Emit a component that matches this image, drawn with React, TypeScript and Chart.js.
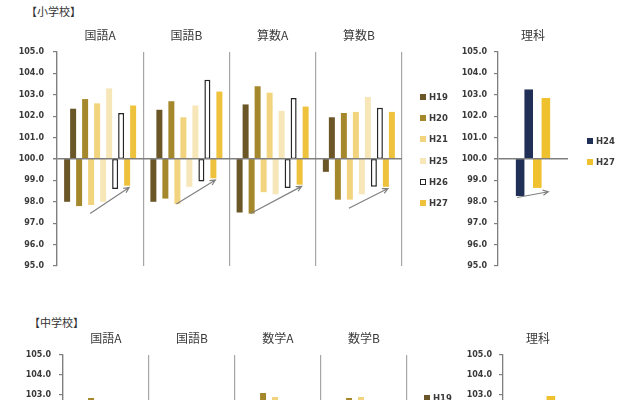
import React, { useEffect, useRef } from 'react';
import { Chart, registerables } from 'chart.js';

Chart.register(...registerables);

const YEARS = ['H19', 'H20', 'H21', 'H25', 'H26', 'H27'];
const YEAR_COLORS = ['#6b5628', '#a6882c', '#f2d47e', '#f6e6b8', '#ffffff', '#eec23c'];
const HOLLOW_YEAR = 'H26';
const RIKA_YEARS = ['H24', 'H27'];
const RIKA_COLORS = ['#1f2f55', '#efc12e'];
const Y_TICKS = [95, 96, 97, 98, 99, 100, 101, 102, 103, 104, 105];

// 小学校
const ELEM_SUBJECTS = ['国語A', '国語B', '算数A', '算数B'];
const ELEM_H19_HIGH = [102.35, 102.3, 102.55, 101.95];
const ELEM_H20_HIGH = [102.8, 102.7, 103.4, 102.15];
const ELEM_H21_HIGH = [102.6, 101.95, 103.1, 102.2];
const ELEM_H25_HIGH = [103.3, 102.5, 102.25, 102.9];
const ELEM_H26_HIGH = [102.15, 103.7, 102.85, 102.4];
const ELEM_H27_HIGH = [102.5, 103.15, 102.45, 102.2];
const ELEM_H19_LOW = [98.0, 98.0, 97.5, 99.4];
const ELEM_H20_LOW = [97.8, 98.15, 97.45, 98.1];
const ELEM_H21_LOW = [97.85, 97.9, 98.45, 98.1];
const ELEM_H25_LOW = [98.0, 98.7, 98.35, 98.35];
const ELEM_H26_LOW = [98.6, 98.95, 98.65, 98.7];
const ELEM_H27_LOW = [98.75, 99.1, 98.8, 98.7];
const ELEM_ARROW_FROM_YEAR = ['H21', 'H21', 'H20', 'H21'];
const ELEM_ARROW_FROM_VALUE = [97.45, 97.9, 97.45, 97.7];
const ELEM_RIKA = ['理科'];
const ELEM_RIKA_H24_HIGH = [103.25];
const ELEM_RIKA_H27_HIGH = [102.85];
const ELEM_RIKA_H24_LOW = [98.27];
const ELEM_RIKA_H27_LOW = [98.65];

// 中学校
const JHS_SUBJECTS = ['国語A', '国語B', '数学A', '数学B'];
const JHS_H19_HIGH = [102.4, 102.2, 102.6, 102.3];
const JHS_H20_HIGH = [102.85, 102.5, 103.1, 102.85];
const JHS_H21_HIGH = [102.6, 102.4, 102.9, 102.9];
const JHS_H25_HIGH = [102.5, 102.6, 102.4, 102.6];
const JHS_H26_HIGH = [102.3, 102.5, 102.5, 102.4];
const JHS_H27_HIGH = [102.4, 102.3, 102.6, 102.5];
const JHS_H19_LOW = [98.2, 98.0, 97.8, 98.1];
const JHS_H20_LOW = [98.1, 98.2, 97.9, 98.0];
const JHS_H21_LOW = [98.3, 98.1, 98.2, 98.3];
const JHS_H25_LOW = [98.4, 98.5, 98.3, 98.4];
const JHS_H26_LOW = [98.6, 98.7, 98.5, 98.6];
const JHS_H27_LOW = [98.8, 98.9, 98.7, 98.8];
const JHS_ARROW_FROM_YEAR = ['H20', 'H21', 'H20', 'H20'];
const JHS_ARROW_FROM_VALUE = [97.8, 97.8, 97.6, 97.7];
const JHS_RIKA = ['理科'];
const JHS_RIKA_H24_HIGH = [102.6];
const JHS_RIKA_H27_HIGH = [102.95];
const JHS_RIKA_H24_LOW = [98.3];
const JHS_RIKA_H27_LOW = [98.7];

const TEXT = '#3a3a3a';
const AXIS = '#7f7f7f';
const NUM_FONT = 'DejaVu Sans';
const JP_FONT = '"Noto Sans CJK JP", sans-serif';

type Arrow = { fromDs: number; toDs: number; index: number; fromValue: number; toValue: number; fromDx: number; toDx: number };

// gray trend arrows under the bars
const arrowPlugin = {
  id: 'trendArrows',
  afterDatasetsDraw(chart: any, _args: any, opts: any) {
    const items: Arrow[] = opts.items || [];
    const y = chart.scales.y;
    const ctx = chart.ctx;
    ctx.save();
    ctx.strokeStyle = '#808080';
    ctx.lineWidth = 1.2;
    items.forEach((a) => {
      const b1 = chart.getDatasetMeta(a.fromDs).data[a.index];
      const b2 = chart.getDatasetMeta(a.toDs).data[a.index];
      if (!b1 || !b2) return;
      const x1 = b1.x + a.fromDx;
      const y1 = y.getPixelForValue(a.fromValue);
      const x2 = b2.x + a.toDx;
      const y2 = y.getPixelForValue(a.toValue);
      const ang = Math.atan2(y2 - y1, x2 - x1);
      const head = 6;
      ctx.beginPath();
      ctx.moveTo(x1, y1);
      ctx.lineTo(x2, y2);
      ctx.moveTo(x2 - head * Math.cos(ang - 0.45), y2 - head * Math.sin(ang - 0.45));
      ctx.lineTo(x2, y2);
      ctx.lineTo(x2 - head * Math.cos(ang + 0.45), y2 - head * Math.sin(ang + 0.45));
      ctx.stroke();
    });
    ctx.restore();
  },
};

type PanelProps = {
  labels: string[];
  years: string[];
  colors: string[];
  highs: number[][];
  lows: number[][];
  arrows: Arrow[];
  left: number;
  top: number;
  width: number;
  height: number;
  yWidth: number;
  xHeight: number;
  padRight: number;
  padBottom: number;
  catPct: number;
  dividers: boolean;
  tickPad: number;
};

function Panel(p: PanelProps) {
  const canvasRef = useRef<HTMLCanvasElement | null>(null);

  useEffect(() => {
    if (!canvasRef.current) return;
    const datasets = p.years.flatMap((yr, i) => {
      const hollow = yr === HOLLOW_YEAR;
      const style = {
        label: yr,
        backgroundColor: p.colors[i],
        borderColor: hollow ? '#262626' : p.colors[i],
        borderWidth: hollow ? 1.5 : 0,
        borderSkipped: false,
        barPercentage: 1,
        categoryPercentage: p.catPct,
      };
      return [
        { ...style, data: p.lows[i].map((v) => [100, v]) },
        { ...style, data: p.highs[i].map((v) => [100, v]) },
      ];
    });

    const chart = new Chart(canvasRef.current, {
      type: 'bar',
      data: { labels: p.labels, datasets: datasets as any },
      plugins: [arrowPlugin],
      options: {
        animation: false,
        responsive: false,
        events: [],
        layout: { padding: { left: 0, top: 0, right: p.padRight, bottom: p.padBottom } },
        plugins: {
          legend: { display: false },
          tooltip: { enabled: false },
          trendArrows: { items: p.arrows },
        } as any,
        scales: {
          x: {
            position: 'top',
            grid: { display: p.dividers, color: '#a6a6a6', lineWidth: 1.2, drawTicks: false, offset: true },
            border: { display: false },
            ticks: { color: TEXT, font: { family: JP_FONT, size: 12 }, padding: 9 },
            afterFit: (s: any) => {
              s.height = p.xHeight;
            },
          },
          y: {
            min: 95,
            max: 105,
            afterBuildTicks: (s: any) => {
              s.ticks = Y_TICKS.map((v) => ({ value: v }));
            },
            ticks: {
              callback: (v: any) => Number(v).toFixed(1),
              color: TEXT,
              font: { family: NUM_FONT, size: 8, weight: 'bold' },
              padding: p.tickPad,
            },
            grid: {
              color: (c: any) => (c.tick && c.tick.value === 100 ? AXIS : 'rgba(0,0,0,0)'),
              lineWidth: (c: any) => (c.tick && c.tick.value === 100 ? 1.5 : 1.2),
              tickColor: AXIS,
              tickLength: 4,
              z: 1,
            },
            border: { display: true, color: AXIS, width: 1.3, z: 2 },
            afterFit: (s: any) => {
              s.width = p.yWidth;
            },
          },
        },
      } as any,
    });
    return () => chart.destroy();
  }, []);

  return (
    <canvas
      ref={canvasRef}
      width={p.width}
      height={p.height}
      style={{ position: 'absolute', left: p.left, top: p.top, width: p.width, height: p.height }}
    />
  );
}

function Legend({ items, colors, left, top }: { items: string[]; colors: string[]; left: number; top: number }) {
  return (
    <div style={{ position: 'absolute', left, top }}>
      {items.map((t, i) => (
        <div key={t} style={{ height: 21.3, display: 'flex', alignItems: 'center' }}>
          <span
            style={{
              display: 'inline-block',
              width: 6,
              height: 6,
              boxSizing: 'border-box',
              background: colors[i],
              border: t === HOLLOW_YEAR ? '1.5px solid #262626' : 'none',
              marginRight: 3,
            }}
          />
          <span style={{ font: `bold 8.5px ${NUM_FONT}`, color: TEXT }}>{t}</span>
        </div>
      ))}
    </div>
  );
}

function makeArrows(fromYears: string[], fromValues: number[], endLows: number[]): Arrow[] {
  const toDs = YEARS.indexOf('H27') * 2;
  return fromYears.map((yr, i) => ({
    fromDs: YEARS.indexOf(yr) * 2,
    toDs,
    index: i,
    fromValue: fromValues[i],
    toValue: endLows[i] - 0.08,
    fromDx: -1,
    toDx: 2,
  }));
}

export default function App() {
  const elemHighs = [ELEM_H19_HIGH, ELEM_H20_HIGH, ELEM_H21_HIGH, ELEM_H25_HIGH, ELEM_H26_HIGH, ELEM_H27_HIGH];
  const elemLows = [ELEM_H19_LOW, ELEM_H20_LOW, ELEM_H21_LOW, ELEM_H25_LOW, ELEM_H26_LOW, ELEM_H27_LOW];
  const jhsHighs = [JHS_H19_HIGH, JHS_H20_HIGH, JHS_H21_HIGH, JHS_H25_HIGH, JHS_H26_HIGH, JHS_H27_HIGH];
  const jhsLows = [JHS_H19_LOW, JHS_H20_LOW, JHS_H21_LOW, JHS_H25_LOW, JHS_H26_LOW, JHS_H27_LOW];

  const elemArrows = makeArrows(ELEM_ARROW_FROM_YEAR, ELEM_ARROW_FROM_VALUE, ELEM_H27_LOW);
  const jhsArrows = makeArrows(JHS_ARROW_FROM_YEAR, JHS_ARROW_FROM_VALUE, JHS_H27_LOW);
  const elemRikaArrow: Arrow[] = [
    { fromDs: 0, toDs: 2, index: 0, fromValue: ELEM_RIKA_H24_LOW[0] - 0.07, toValue: 98.47, fromDx: -3, toDx: 11 },
  ];
  const jhsRikaArrow: Arrow[] = [
    { fromDs: 0, toDs: 2, index: 0, fromValue: JHS_RIKA_H24_LOW[0] - 0.07, toValue: 98.5, fromDx: -3, toDx: 11 },
  ];

  const sectionLabel = { position: 'absolute' as const, font: `11px ${JP_FONT}`, color: '#333', lineHeight: '12px' };

  return (
    <div style={{ position: 'fixed', left: 0, top: 0, width: 640, height: 400, overflow: 'hidden', background: '#fff' }}>
      <div style={{ ...sectionLabel, left: 26, top: 5 }}>【小学校】</div>
      <Panel
        labels={ELEM_SUBJECTS}
        years={YEARS}
        colors={YEAR_COLORS}
        highs={elemHighs}
        lows={elemLows}
        arrows={elemArrows}
        left={0}
        top={14}
        width={460}
        height={272}
        yWidth={57}
        xHeight={38}
        padRight={58}
        padBottom={20}
        catPct={0.835}
        dividers={true}
        tickPad={9}
      />
      <Legend items={YEARS} colors={YEAR_COLORS} left={420} top={86} />
      <Panel
        labels={ELEM_RIKA}
        years={RIKA_YEARS}
        colors={RIKA_COLORS}
        highs={[ELEM_RIKA_H24_HIGH, ELEM_RIKA_H27_HIGH]}
        lows={[ELEM_RIKA_H24_LOW, ELEM_RIKA_H27_LOW]}
        arrows={elemRikaArrow}
        left={440}
        top={14}
        width={200}
        height={272}
        yWidth={58}
        xHeight={38}
        padRight={72}
        padBottom={20}
        catPct={0.49}
        dividers={false}
        tickPad={7}
      />
      <Legend items={RIKA_YEARS} colors={RIKA_COLORS} left={587} top={130} />

      <div style={{ ...sectionLabel, left: 29, top: 316 }}>【中学校】</div>
      <Panel
        labels={JHS_SUBJECTS}
        years={YEARS}
        colors={YEAR_COLORS}
        highs={jhsHighs}
        lows={jhsLows}
        arrows={jhsArrows}
        left={0}
        top={300}
        width={460}
        height={300}
        yWidth={63}
        xHeight={55}
        padRight={53}
        padBottom={45}
        catPct={0.835}
        dividers={true}
        tickPad={8}
      />
      <Legend items={YEARS} colors={YEAR_COLORS} left={424} top={387} />
      <Panel
        labels={JHS_RIKA}
        years={RIKA_YEARS}
        colors={RIKA_COLORS}
        highs={[JHS_RIKA_H24_HIGH, JHS_RIKA_H27_HIGH]}
        lows={[JHS_RIKA_H24_LOW, JHS_RIKA_H27_LOW]}
        arrows={jhsRikaArrow}
        left={440}
        top={300}
        width={200}
        height={300}
        yWidth={63}
        xHeight={55}
        padRight={67}
        padBottom={45}
        catPct={0.49}
        dividers={false}
        tickPad={7}
      />
    </div>
  );
}
